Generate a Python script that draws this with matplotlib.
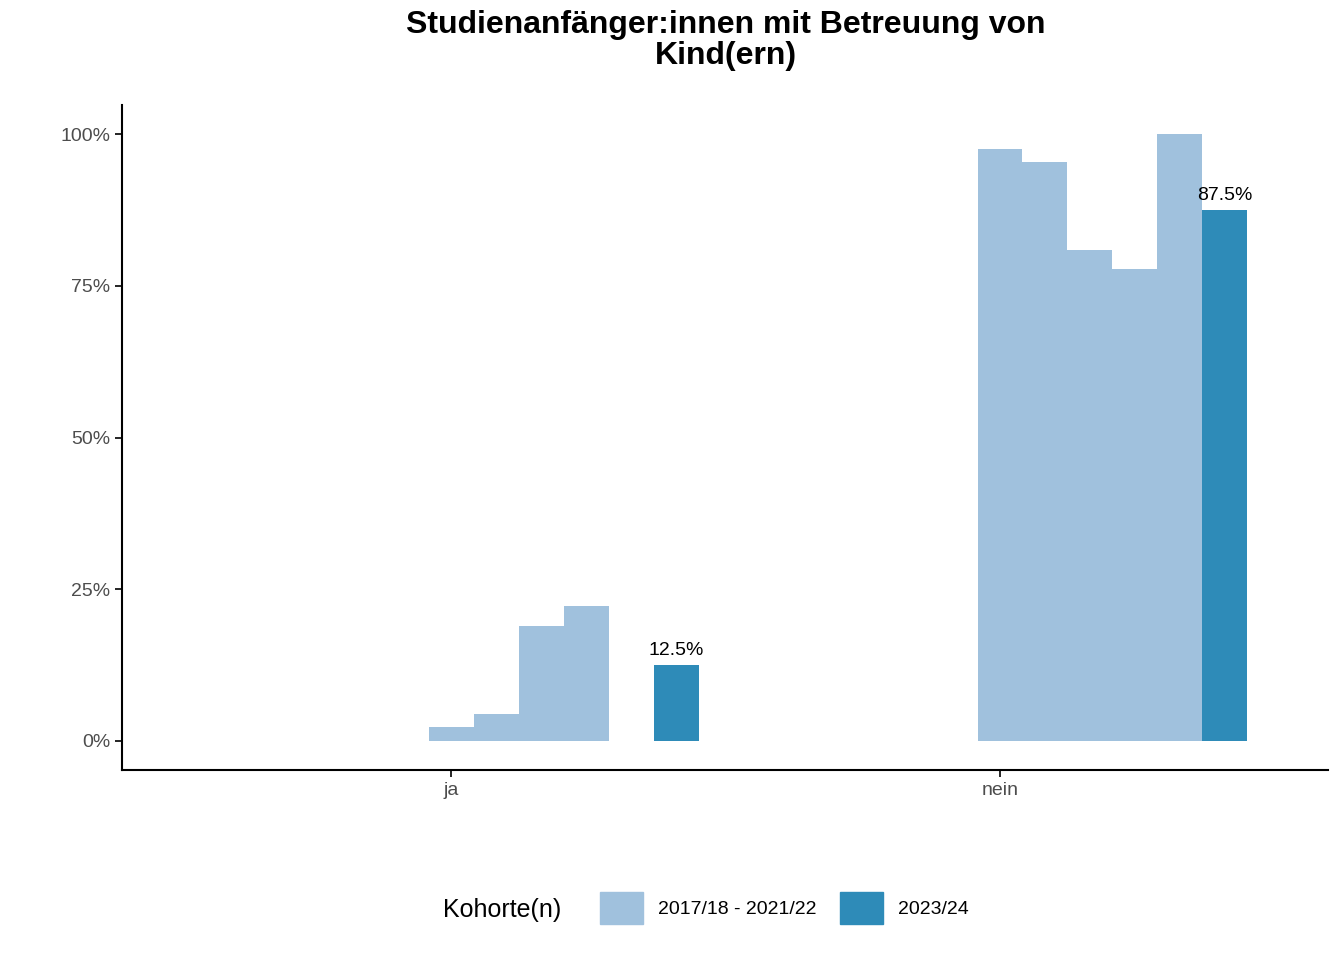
import matplotlib
matplotlib.use("Agg")
import matplotlib.pyplot as plt
from matplotlib.patches import Patch

categories = ["ja", "nein"]
light_ja = [2.3, 4.45, 18.9, 22.2]
light_nein = [97.5, 95.4, 80.9, 77.8, 100.0]
dark_vals = [12.5, 87.5]
dark_labels = ["12.5%", "87.5%"]
yticks = [0, 25, 50, 75, 100]
legend_labels = ["2017/18 - 2021/22", "2023/24"]

light = "#a0c1dd"
dark = "#2e8bb8"
plt.rcParams["font.family"] = "Liberation Sans"
fig = plt.figure(figsize=(13.44, 9.6), dpi=100)
ax = fig.add_axes([0.0908, 0.198, 0.897, 0.6926])
w = 45 / 549
for ci, vals in enumerate([light_ja, light_nein]):
    base = ci + 1
    for k, v in enumerate(vals):
        ax.bar(base + k * w, v, width=w, color=light, align="center")
    xd = base + 5 * w
    ax.bar(xd, dark_vals[ci], width=w, color=dark, align="center")
    ax.text(xd, dark_vals[ci] + 1.0, dark_labels[ci], ha="center", va="bottom", fontsize=14)

ax.set_xlim(0.4, 2.597)
ax.set_ylim(-4.78, 104.8)
ax.set_xticks([1, 2])
ax.set_xticklabels(categories, fontsize=14, color="#4d4d4d")
ax.set_yticks(yticks)
ax.set_yticklabels([f"{t}%" for t in yticks], fontsize=14, color="#4d4d4d")
for s in ["top", "right"]:
    ax.spines[s].set_visible(False)
for s in ["left", "bottom"]:
    ax.spines[s].set_linewidth(1.5)
ax.tick_params(length=5, width=1.2)
fig.suptitle("Studienanfänger:innen mit Betreuung von\nKind(ern)", fontsize=23,
             fontweight="bold", x=0.54, y=0.99, linespacing=1.05)
handles = [Patch(color=light), Patch(color=dark)]
fig.text(443 / 1344, 1 - 910 / 960, "Kohorte(n)", fontsize=18, va="center", ha="left")
fig.legend(handles, legend_labels, loc="center left", bbox_to_anchor=(590 / 1344, 1 - 908 / 960), ncol=2,
           frameon=False, fontsize=14, handlelength=2.2, handleheight=2.2, columnspacing=1.2,
           borderpad=0, handletextpad=0.8)
fig.savefig("out.png", dpi=100)
